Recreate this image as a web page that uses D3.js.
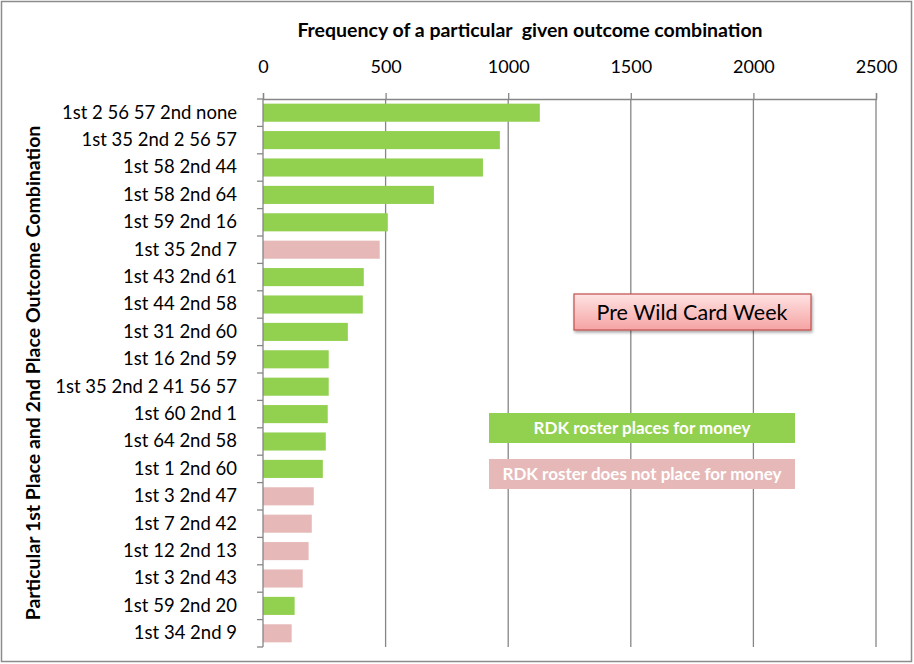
<!DOCTYPE html>
<html>
<head>
<meta charset="utf-8">
<script src="https://cdn.jsdelivr.net/npm/d3@7"></script>
<style>
  body { margin: 0; background: #fff; }
  svg text { font-family: Lato, "Open Sans", sans-serif; }
</style>
</head>
<body>
<script>
// CHART DATA
var categories = [
  '1st 2 56 57 2nd none', '1st 35 2nd 2 56 57', '1st 58 2nd 44', '1st 58 2nd 64',
  '1st 59 2nd 16', '1st 35 2nd 7', '1st 43 2nd 61', '1st 44 2nd 58',
  '1st 31 2nd 60', '1st 16 2nd 59', '1st 35 2nd 2 41 56 57', '1st 60 2nd 1',
  '1st 64 2nd 58', '1st 1 2nd 60', '1st 3 2nd 47', '1st 7 2nd 42',
  '1st 12 2nd 13', '1st 3 2nd 43', '1st 59 2nd 20', '1st 34 2nd 9'
];
var frequencies = [1129, 966, 897, 697, 509, 476, 411, 407, 346, 268,
                   268, 264, 256, 244, 207, 199, 186, 162, 129, 117];
// true = RDK roster places for money
var placesForMoney = [true, true, true, true, true, false, true, true, true, true,
                      true, true, true, true, false, false, false, false, true, false];
var xTicks = [0, 500, 1000, 1500, 2000, 2500];
var legendLabels = ['RDK roster places for money', 'RDK roster does not place for money'];

// SETTINGS
var width = 914, height = 664;
var plot = { left: 263, right: 876, top: 99, bottom: 647 };
var colors = { green: '#92D050', pink: '#E6B9B8', axis: '#868686' };

var svg = d3.select('body').append('svg')
  .attr('width', width)
  .attr('height', height);

// OUTER BORDER
svg.append('rect')
  .attr('x', 1.5).attr('y', 1.5)
  .attr('width', 910).attr('height', 660)
  .attr('fill', '#fff')
  .attr('stroke', '#8c8c8c')
  .attr('stroke-width', 1.5);

// SCALES
var x = d3.scaleLinear().domain([0, 2500]).range([plot.left, plot.right]);
var y = d3.scaleBand().domain(categories).range([plot.top, plot.bottom]).paddingInner(0.34).paddingOuter(0.17);

// GRIDLINES
svg.append('g').selectAll('line')
  .data(xTicks.slice(1))
  .join('line')
  .attr('x1', d => x(d)).attr('x2', d => x(d))
  .attr('y1', plot.top).attr('y2', plot.bottom)
  .attr('stroke', colors.axis)
  .attr('stroke-width', 1.3);

// BARS
svg.append('g').selectAll('rect')
  .data(frequencies)
  .join('rect')
  .attr('x', x(0))
  .attr('y', (d, i) => y(categories[i]))
  .attr('width', d => x(d) - x(0))
  .attr('height', y.bandwidth())
  .attr('fill', (d, i) => placesForMoney[i] ? colors.green : colors.pink);

// TOP AXIS
var xAxis = svg.append('g')
  .attr('transform', 'translate(0,' + plot.top + ')')
  .call(d3.axisTop(x).tickValues(xTicks).tickFormat(d3.format('d')).tickSize(6).tickPadding(20));
xAxis.selectAll('path, line').attr('stroke', colors.axis).attr('stroke-width', 1.3);
xAxis.selectAll('text')
  .attr('font-size', 18)
  .attr('fill', '#000')
  .style('font-family', 'Lato, sans-serif');

// LEFT AXIS
var yAxis = svg.append('g')
  .attr('transform', 'translate(' + plot.left + ',0)')
  .call(d3.axisLeft(y).tickSize(0).tickPadding(26));
yAxis.select('.domain').remove();
yAxis.selectAll('text')
  .attr('font-size', 18.5)
  .attr('fill', '#000')
  .style('font-family', 'Lato, sans-serif');

// LEFT AXIS LINE + BOUNDARY TICKS
var boundaries = d3.range(categories.length + 1).map(i => plot.top + i * (plot.bottom - plot.top) / categories.length);
svg.append('line')
  .attr('x1', plot.left).attr('x2', plot.left)
  .attr('y1', plot.top).attr('y2', plot.bottom)
  .attr('stroke', colors.axis).attr('stroke-width', 1.3);
svg.append('g').selectAll('line')
  .data(boundaries)
  .join('line')
  .attr('x1', plot.left - 6).attr('x2', plot.left)
  .attr('y1', d => d).attr('y2', d => d)
  .attr('stroke', colors.axis).attr('stroke-width', 1.3);

// AXIS TITLES
svg.append('text')
  .attr('x', 530).attr('y', 37)
  .attr('text-anchor', 'middle')
  .attr('font-size', 19.5).attr('font-weight', 'bold')
  .style('white-space', 'pre')
  .text('Frequency of a particular  given outcome combination');

svg.append('text')
  .attr('transform', 'translate(40,' + ((plot.top + plot.bottom) / 2) + ') rotate(-90)')
  .attr('text-anchor', 'middle')
  .attr('font-size', 19.5).attr('font-weight', 'bold')
  .text('Particular 1st Place and 2nd Place Outcome Combination');

// ANNOTATION BOX
var defs = svg.append('defs');
var grad = defs.append('linearGradient').attr('id', 'pinkGrad').attr('x1', 0).attr('y1', 0).attr('x2', 0).attr('y2', 1);
grad.append('stop').attr('offset', '0%').attr('stop-color', '#FFE3E3');
grad.append('stop').attr('offset', '100%').attr('stop-color', '#F5A3A3');
var shadow = defs.append('filter').attr('id', 'shadow').attr('x', '-10%').attr('y', '-20%').attr('width', '130%').attr('height', '160%');
shadow.append('feDropShadow').attr('dx', 1).attr('dy', 2).attr('stdDeviation', 1.5).attr('flood-opacity', 0.35);

svg.append('rect')
  .attr('x', 574).attr('y', 294)
  .attr('width', 237).attr('height', 36)
  .attr('fill', 'url(#pinkGrad)')
  .attr('stroke', '#C0504D').attr('stroke-width', 1.2)
  .attr('filter', 'url(#shadow)');
svg.append('text')
  .attr('x', 692).attr('y', 320)
  .attr('text-anchor', 'middle')
  .attr('font-size', 21.5)
  .text('Pre Wild Card Week');

// LEGEND BOXES
var legend = svg.append('g').selectAll('g')
  .data(legendLabels)
  .join('g')
  .attr('transform', (d, i) => 'translate(489,' + (413 + i * 46) + ')');
legend.append('rect')
  .attr('width', 306).attr('height', 30)
  .attr('fill', (d, i) => i === 0 ? colors.green : colors.pink);
legend.append('text')
  .attr('x', 153).attr('y', 21)
  .attr('text-anchor', 'middle')
  .attr('font-size', 17).attr('font-weight', 'bold')
  .attr('fill', '#fff')
  .text(d => d);
</script>
</body>
</html>
